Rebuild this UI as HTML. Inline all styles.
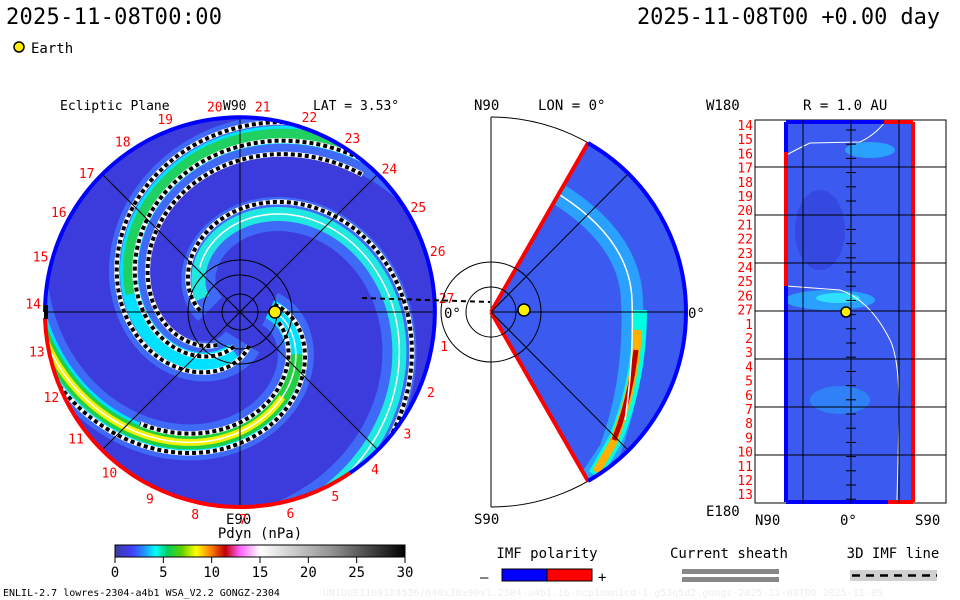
<!DOCTYPE html>
<html><head><meta charset="utf-8">
<style>
body{margin:0;background:#fff;}
svg{display:block;font-family:"DejaVu Sans Mono","Liberation Mono",monospace;}
</style></head>
<body>
<svg id="s" width="960" height="600" viewBox="0 0 960 600" xmlns="http://www.w3.org/2000/svg">
<defs>
<clipPath id="disk"><circle cx="240" cy="312" r="195"/></clipPath>
<clipPath id="wedge"><path d="M491,312 L588,143 A195,195 0 0 1 588,481 Z"/></clipPath>
<linearGradient id="cbar" x1="0" x2="1" y1="0" y2="0">
<stop offset="0" stop-color="#3a3aa0"/><stop offset="0.06" stop-color="#4040ff"/><stop offset="0.1" stop-color="#2090ff"/>
<stop offset="0.14" stop-color="#00ffff"/><stop offset="0.18" stop-color="#00d060"/><stop offset="0.23" stop-color="#60d000"/>
<stop offset="0.28" stop-color="#ffff00"/><stop offset="0.33" stop-color="#ff8000"/><stop offset="0.38" stop-color="#c00000"/>
<stop offset="0.43" stop-color="#ff60ff"/><stop offset="0.5" stop-color="#ffffff"/><stop offset="0.75" stop-color="#909090"/>
<stop offset="1" stop-color="#000000"/></linearGradient>
</defs>
<text x="6" y="24" font-size="22" textLength="216">2025-11-08T00:00</text>
<text x="637" y="24" font-size="22" textLength="303">2025-11-08T00 +0.00 day</text>
<circle cx="19" cy="47" r="5" fill="#ffee00" stroke="#000" stroke-width="1.5"/>
<text x="31" y="53" font-size="14">Earth</text>

<g>
<text x="60" y="110" font-size="13">Ecliptic Plane</text>
<text x="223" y="110" font-size="13">W90</text>
<text x="313" y="110" font-size="13">LAT = 3.53°</text>
<circle cx="240" cy="312" r="195" fill="#3c3cdc"/>
<g id="arms" clip-path="url(#disk)"></g>
<g stroke="#000" stroke-width="1" fill="none">
<line x1="45" y1="312" x2="435" y2="312"/><line x1="240" y1="117" x2="240" y2="507"/>
<line x1="102" y1="174" x2="378" y2="450"/><line x1="102" y1="450" x2="378" y2="174"/>
<circle cx="240" cy="312" r="18"/><circle cx="240" cy="312" r="37"/><circle cx="240" cy="312" r="52"/>
</g>
<path d="M45,312 A195,195 0 0 1 386,183" fill="none" stroke="#0000ff" stroke-width="4"/>
<path d="M386,183 A195,195 0 0 1 350,473" fill="none" stroke="#0000ff" stroke-width="4"/>
<path d="M350,473 A195,195 0 0 1 45,318" fill="none" stroke="#ff0000" stroke-width="4"/>
<rect x="44" y="305" width="4" height="14" fill="#000"/>
<line x1="362" y1="298" x2="490" y2="302" stroke="#000" stroke-width="2" stroke-dasharray="5,4"/>
<circle cx="275" cy="312" r="6" fill="#ffee00" stroke="#000" stroke-width="1.5"/>
<text x="444" y="318" font-size="14">0°</text>
<text x="226" y="524" font-size="14">E90</text>
<g id="rimlabels" fill="#ff0000" font-size="13"></g>
</g>

<g>
<text x="474" y="110" font-size="14">N90</text>
<text x="538" y="110" font-size="14">LON = 0°</text>
<path d="M491,117 A195,195 0 0 1 491,507" fill="none" stroke="#000"/>
<line x1="491" y1="117" x2="491" y2="507" stroke="#000"/>
<path d="M491,312 L588,143 A195,195 0 0 1 588,481 Z" fill="#3a5af0"/>
<g clip-path="url(#wedge)">
<path d="M560,195 Q630,240 632,300 Q636,380 610,450 L590,480" fill="none" stroke="#2aa0ff" stroke-width="22"/>
<path d="M640,310 Q640,380 615,440 L595,475" fill="none" stroke="#00ffe0" stroke-width="14"/>
<path d="M638,330 Q635,390 612,445 L596,472" fill="none" stroke="#ffb000" stroke-width="8"/>
<path d="M636,350 Q630,400 614,440" fill="none" stroke="#c00000" stroke-width="5"/>
<path d="M560,195 Q630,240 632,300 Q634,360 625,420" fill="none" stroke="#fff" stroke-width="1.5"/>
</g>
<path d="M491,312 L588,143" stroke="#ff0000" stroke-width="4"/>
<path d="M491,312 L588,481" stroke="#ff0000" stroke-width="4"/>
<path d="M588,143 A195,195 0 0 1 686,312 A195,195 0 0 1 588,481" fill="none" stroke="#0000ff" stroke-width="4"/>
<g stroke="#000" fill="none"><circle cx="491" cy="312" r="25"/><circle cx="491" cy="312" r="50"/><line x1="491" y1="312" x2="627" y2="175"/><line x1="491" y1="312" x2="627" y2="449"/><line x1="491" y1="312" x2="686" y2="312"/></g>
<circle cx="524" cy="310" r="6" fill="#ffee00" stroke="#000" stroke-width="1.5"/>
<text x="688" y="318" font-size="14">0°</text>
<text x="474" y="524" font-size="14">S90</text>
</g>

<g>
<text x="706" y="110" font-size="14">W180</text>
<text x="803" y="110" font-size="14">R = 1.0 AU</text>
<rect x="755" y="120" width="191" height="383" fill="#fff" stroke="#000"/>
<rect x="785" y="122" width="129" height="380" fill="#3a5af0"/>
<ellipse cx="830" cy="300" rx="45" ry="10" fill="#2aa0ff"/><ellipse cx="838" cy="298" rx="22" ry="5" fill="#30e0ff"/>
<ellipse cx="870" cy="150" rx="25" ry="8" fill="#2aa0ff"/>
<ellipse cx="840" cy="400" rx="30" ry="14" fill="#3080f8"/>
<ellipse cx="820" cy="230" rx="25" ry="40" fill="#3548e0"/>
<path d="M785,156 Q795,150 810,143 L860,142 Q875,135 885,122" fill="none" stroke="#fff"/>
<path d="M786,286 L840,290 Q870,300 890,340 Q900,360 899,420 L897,500" fill="none" stroke="#fff"/>
<line x1="786" y1="122" x2="786" y2="502" stroke="#0000ff" stroke-width="4"/>
<line x1="786" y1="152" x2="786" y2="286" stroke="#ff0000" stroke-width="4"/>
<line x1="913" y1="122" x2="913" y2="502" stroke="#ff0000" stroke-width="4"/>
<line x1="786" y1="122" x2="884" y2="122" stroke="#0000ff" stroke-width="4"/><line x1="884" y1="122" x2="913" y2="122" stroke="#ff0000" stroke-width="4"/>
<line x1="786" y1="502" x2="888" y2="502" stroke="#0000ff" stroke-width="4"/><line x1="888" y1="502" x2="913" y2="502" stroke="#ff0000" stroke-width="4"/>
<g id="grid" stroke="#000"></g>
<circle cx="846" cy="312" r="5" fill="#ffee00" stroke="#000" stroke-width="1.5"/>
<g id="latlabels" fill="#ff0000" font-size="13" text-anchor="end"></g>
<text x="706" y="516" font-size="14">E180</text>
<text x="755" y="525" font-size="14">N90</text>
<text x="840" y="525" font-size="14">0°</text>
<text x="915" y="525" font-size="14">S90</text>
</g>

<g>
<text x="260" y="538" font-size="14" text-anchor="middle">Pdyn (nPa)</text>
<rect x="115" y="545" width="290" height="12" fill="url(#cbar)" stroke="#000"/>
<g id="cbticks"></g>
</g>
<g>
<text x="547" y="558" font-size="14" text-anchor="middle">IMF polarity</text>
<text x="480" y="582" font-size="14">–</text>
<rect x="502" y="569" width="45" height="12" fill="#0000ff" stroke="#000"/>
<rect x="547" y="569" width="45" height="12" fill="#ff0000" stroke="#000"/>
<text x="598" y="582" font-size="14">+</text>
</g>
<g>
<text x="729" y="558" font-size="14" text-anchor="middle">Current sheath</text>
<rect x="682" y="569" width="97" height="5" fill="#888"/><rect x="682" y="577" width="97" height="5" fill="#888"/>
</g>
<g>
<text x="893" y="558" font-size="14" text-anchor="middle">3D IMF line</text>
<rect x="850" y="570" width="87" height="11" fill="#d0d0d0"/>
<line x1="852" y1="575.5" x2="937" y2="575.5" stroke="#000" stroke-width="2.5" stroke-dasharray="8,6"/>
</g>
<text x="3" y="596" font-size="10">ENLIL-2.7 lowres-2304-a4b1 WSA_V2.2 GONGZ-2304</text>
<text x="323" y="596" font-size="10" fill="#eeeeee">UNIQUE1109184536/640x30x90x1.2304-a4b1.16-mcp1umn1cd-1.g53q5d2.gongz-2025-11-08T00  2025-11-09</text>
</svg>
<script>
var NS="http://www.w3.org/2000/svg";
function mk(tag,attrs,parent){var e=document.createElementNS(NS,tag);for(var k in attrs)e.setAttribute(k,attrs[k]);parent.appendChild(e);return e;}
var cbTicks=[0,5,10,15,20,25,30];
var latLabels=[14,15,16,17,18,19,20,21,22,23,24,25,26,27,1,2,3,4,5,6,7,8,9,10,11,12,13];
var rimLabels=[20,21,22,23,24,25,26,27,1,2,3,4,5,6,7,8,9,10,11,12,13,14,15,16,17,18,19];
var cb=document.getElementById('cbticks');
cbTicks.forEach(function(v){var x=115+v/30*290;
 mk('line',{x1:x,y1:557,x2:x,y2:563,stroke:'#000'},cb);
 var tx=mk('text',{x:x,y:577,'font-size':14,'text-anchor':'middle'},cb);tx.textContent=v;
 
 });
var ll=document.getElementById('latlabels');
latLabels.forEach(function(v,i){var y=125+i*14.2;var t=mk('text',{x:753,y:y+5},ll);t.textContent=v;
 
 });
var g=document.getElementById('grid');
[167,215,263,311,359,407,455].forEach(function(y){mk('line',{x1:755,y1:y,x2:946,y2:y},g);});
[803,851,899].forEach(function(x){mk('line',{x1:x,y1:120,x2:x,y2:503},g);});
for(var y=130;y<500;y+=14.2)mk('line',{x1:846,y1:y,x2:856,y2:y},g);
var rl=document.getElementById('rimlabels');
rimLabels.forEach(function(v,i){var a=(-97+i*13.3)*Math.PI/180;var r=207;
 var t=mk('text',{x:240+r*Math.cos(a),y:312+r*Math.sin(a)+5,'text-anchor':'middle'},rl);t.textContent=v;
 
 });
var arms=document.getElementById('arms');
function spiral(off,r0,r1,k){var p=[];for(var r=r0;r<=r1;r+=2){var a=(off+(r-35)*k)*Math.PI/180;p.push((240+r*Math.cos(a)).toFixed(1)+','+(312+r*Math.sin(a)).toFixed(1));}return 'M'+p.join(' L');}
function band(off,r0,r1,k,col,w){mk('path',{d:spiral(off,r0,r1,k),fill:'none',stroke:col,"stroke-width":w},arms);}
band(0,30,215,1.06,'#3f6af8',36);
band(92,30,240,1.3,'#3f6af8',40);
band(193,30,215,1.4,'#3f6af8',34);
band(0,30,215,1.06,'#00e0ff',20);
band(0,70,215,1.06,'#20d040',14);
band(0,95,205,1.06,'#f0f000',7);
band(92,40,240,1.3,'#00e0ff',18);
band(92,110,240,1.3,'#20d060',12);
band(193,40,215,1.4,'#20e8e0',14);
band(0,30,205,1.06,'#fff',1.5);
band(193,60,205,1.4,'#fff',1.5);
[[-12,35,195,1.06],[10,40,150,1.06],[75,35,225,1.3],[100,35,210,1.3],[118,40,185,1.3],[175,40,200,1.4]].forEach(function(s){
 band(s[0],s[1],s[2],s[3],'#fff',5);
 mk('path',{d:spiral(s[0],s[1],s[2],s[3]),fill:'none',stroke:'#000',"stroke-width":4,"stroke-dasharray":"4,3"},arms);});
</script>
</body></html>
